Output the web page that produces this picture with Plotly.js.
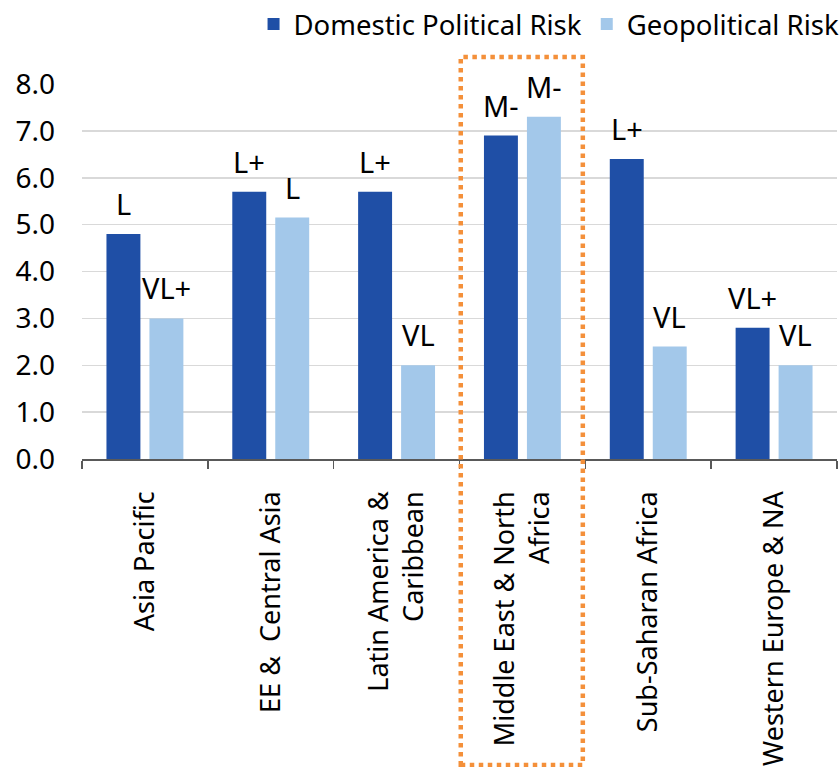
<!DOCTYPE html>
<html>
<head>
<meta charset="utf-8">
<script src="https://cdn.plot.ly/plotly-3.0.1.min.js"></script>
<style>html,body{margin:0;padding:0;background:#fff;}</style>
</head>
<body>
<div id="chart" style="width:840px;height:767px;"></div>
<script>
const categories = ["Asia Pacific", "EE &  Central Asia", "Latin America &<br>Caribbean", "Middle East & North<br>Africa", "Sub-Saharan Africa", "Western Europe & NA"];
const domestic = [4.8, 5.7, 5.7, 6.9, 6.4, 2.8];
const geopolitical = [3.0, 5.15, 2.0, 7.3, 2.4, 2.0];
const domesticLabels = ["L", "L+", "L+", "M-", "L+", "VL+"];
const geopoliticalLabels = ["VL+", "L", "VL", "M-", "VL", "VL"];
const yTicks = [0, 1, 2, 3, 4, 5, 6, 7, 8];

const font = "Noto Sans, sans-serif";
const dark = "#1F4FA6";
const light = "#A3C8EA";

const traces = [
  {type: "bar", name: "Domestic Political Risk", x: categories, y: domestic, marker: {color: dark}, hoverinfo: "none"},
  {type: "bar", name: "Geopolitical Risk", x: categories, y: geopolitical, marker: {color: light}, hoverinfo: "none"}
];

const annotations = [];
categories.forEach((c, i) => {
  annotations.push({x: c, y: domestic[i], xref: "x", yref: "y", text: domesticLabels[i], showarrow: false, xshift: -21.5, yanchor: "bottom", yshift: 9, font: {family: font, size: 29, color: "#000"}});
  annotations.push({x: c, y: geopolitical[i], xref: "x", yref: "y", text: geopoliticalLabels[i], showarrow: false, xshift: 21.5, yanchor: "bottom", yshift: 9, font: {family: font, size: 29, color: "#000"}});
});

const layout = {
  width: 840, height: 767,
  margin: {l: 82, r: 3, t: 84, b: 308, pad: 0, autoexpand: false},
  paper_bgcolor: "#fff", plot_bgcolor: "#fff",
  font: {family: font, size: 27, color: "#000"},
  barmode: "group",
  bargap: 0.317,
  bargroupgap: 0.21,
  showlegend: true,
  legend: {orientation: "h", x: 1.01, xanchor: "right", y: 1.225, yanchor: "top", font: {family: font, size: 27.5, color: "#000"}, traceorder: "normal", itemwidth: 30, bgcolor: "rgba(0,0,0,0)"},
  xaxis: {
    type: "category", tickangle: -90, showgrid: false, showline: true, linecolor: "#595959", linewidth: 1.5,
    ticks: "outside", tickson: "boundaries", ticklen: 8, tickcolor: "#595959", tickwidth: 1.5,
    ticklabelstandoff: 20, automargin: false,
    tickfont: {family: font, size: 27, color: "#000"}
  },
  yaxis: {
    range: [0, 8], tickvals: yTicks, ticktext: yTicks.map(v => v.toFixed(1)),
    showgrid: true, gridcolor: "#D9D9D9", gridwidth: 1.5, zeroline: false, showline: false,
    ticks: "", ticklabelstandoff: 26, automargin: false,
    tickfont: {family: font, size: 28, color: "#000"}
  },
  annotations: annotations,
  shapes: [{
    type: "rect", xref: "x", yref: "paper", x0: 2.51, x1: 3.48, y0: -0.816, y1: 1.072,
    line: {color: "#F4903A", width: 4.5, dash: "dot"}, fillcolor: "rgba(0,0,0,0)", layer: "above"
  }]
};

Plotly.newPlot("chart", traces, layout, {displayModeBar: false, staticPlot: true});
</script>
</body>
</html>
